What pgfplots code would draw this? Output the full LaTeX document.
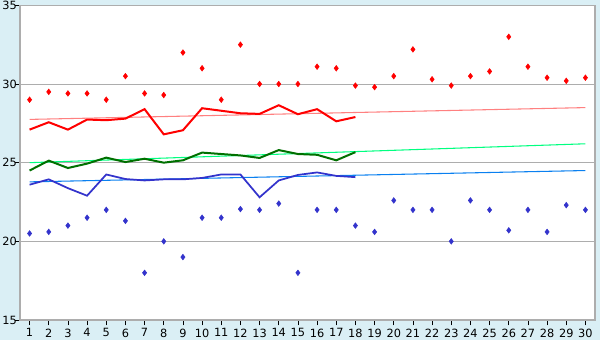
\documentclass[border=0pt]{standalone}
\usepackage{pgfplots}
\pgfplotsset{compat=1.18}
\usepackage{fontspec}
\setmainfont{DejaVu Sans}
\definecolor{bgblue}{HTML}{DAEFF5}
\definecolor{gridgrey}{HTML}{ADADAD}
\definecolor{maxred}{HTML}{FF0000}
\definecolor{trendred}{HTML}{FF8080}
\definecolor{avggreen}{HTML}{007000}
\definecolor{trendgreen}{HTML}{00FF80}
\definecolor{minblue}{HTML}{3333CC}
\definecolor{trendblue}{HTML}{0A80F0}
\begin{document}
\begin{tikzpicture}[x=0.75pt,y=0.75pt]
\fill[bgblue] (0,0) rectangle (600,340);
\useasboundingbox (0,0) rectangle (600,340);
\begin{axis}[
  at={(15pt,15pt)}, anchor=south west,
  scale only axis, width=431.25pt, height=236pt,
  xmin=0.5, xmax=30.5, ymin=15, ymax=35,
  axis background/.style={fill=white},
  axis line style={gridgrey, line width=1pt},
  xtick={1,...,30}, ytick={15,20,25,30,35},
  ymajorgrids, grid style={gridgrey, line width=0.75pt},
  tick align=outside, tick pos=left,
  major tick length=4pt,
  tick style={black, line width=0.6pt},
  every tick label/.append style={font=\fontsize{8.5}{10}\selectfont},
  /pgf/number format/assume math mode=true,
  xticklabel style={yshift=1pt},
  yticklabel style={inner sep=0pt, xshift=1.75pt},
  clip=false,
]
% trend lines
\addplot[trendred, line width=0.8pt] coordinates {(1,27.75) (30,28.5)};
\addplot[trendgreen, line width=0.8pt] coordinates {(1,25.0) (30,26.2)};
\addplot[trendblue, line width=0.8pt] coordinates {(1,23.78) (30,24.5)};
% max points
\addplot[only marks, mark=diamond*, mark size=2.1pt, color=maxred] coordinates {
(1,29.0) (2,29.5) (3,29.4) (4,29.4) (5,29.0) (6,30.5) (7,29.4) (8,29.3) (9,32.0) (10,31.0)
(11,29.0) (12,32.5) (13,30.0) (14,30.0) (15,30.0) (16,31.1) (17,31.0) (18,29.9) (19,29.8) (20,30.5)
(21,32.2) (22,30.3) (23,29.9) (24,30.5) (25,30.8) (26,33.0) (27,31.1) (28,30.4) (29,30.2) (30,30.4)};
% min points
\addplot[only marks, mark=diamond*, mark size=2.1pt, color=minblue] coordinates {
(1,20.5) (2,20.6) (3,21.0) (4,21.5) (5,22.0) (6,21.3) (7,18.0) (8,20.0) (9,19.0) (10,21.5)
(11,21.5) (12,22.05) (13,22.0) (14,22.4) (15,18.0) (16,22.0) (17,22.0) (18,21.0) (19,20.6) (20,22.6)
(21,22.0) (22,22.0) (23,20.0) (24,22.6) (25,22.0) (26,20.7) (27,22.0) (28,20.6) (29,22.3) (30,22.0)};
% avg max line
\addplot[maxred, line width=1.5pt] coordinates {
(1,27.1) (2,27.57) (3,27.1) (4,27.74) (5,27.7) (6,27.8) (7,28.4) (8,26.8) (9,27.06) (10,28.46)
(11,28.3) (12,28.14) (13,28.1) (14,28.65) (15,28.08) (16,28.4) (17,27.63) (18,27.9)};
% avg line
\addplot[avggreen, line width=1.5pt] coordinates {
(1,24.5) (2,25.13) (3,24.66) (4,24.94) (5,25.32) (6,25.04) (7,25.25) (8,25.0) (9,25.15) (10,25.64)
(11,25.55) (12,25.46) (13,25.3) (14,25.8) (15,25.55) (16,25.5) (17,25.15) (18,25.67)};
% avg min line
\addplot[minblue, line width=1.3pt] coordinates {
(1,23.6) (2,23.94) (3,23.38) (4,22.9) (5,24.25) (6,23.96) (7,23.87) (8,23.94) (9,23.94) (10,24.03)
(11,24.25) (12,24.25) (13,22.8) (14,23.87) (15,24.22) (16,24.38) (17,24.16) (18,24.08)};
\end{axis}
\end{tikzpicture}
\end{document}
